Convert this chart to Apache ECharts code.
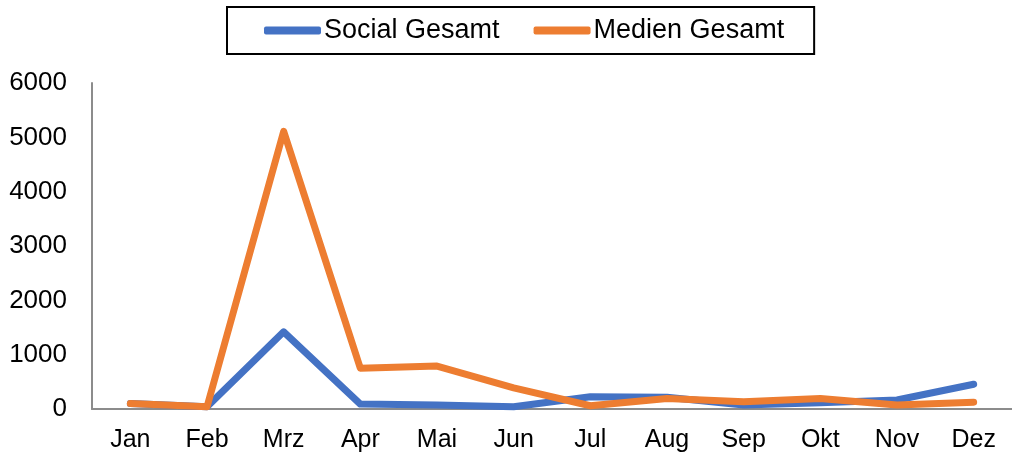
<!DOCTYPE html>
<html>
<head>
<meta charset="utf-8">
<script src="https://cdn.jsdelivr.net/npm/echarts@6/dist/echarts.min.js"></script>
<style>
	html, body { margin: 0; padding: 0; background: #fff; }
	#chart { width: 1012px; height: 456px; }
</style>
</head>
<body>
<div id="chart"></div>
<script>
var months = ['Jan', 'Feb', 'Mrz', 'Apr', 'Mai', 'Jun', 'Jul', 'Aug', 'Sep', 'Okt', 'Nov', 'Dez'];
var socialGesamt = [100, 40, 1420, 90, 75, 40, 225, 215, 75, 115, 165, 455];
var medienGesamt = [100, 40, 5110, 750, 790, 390, 60, 195, 135, 195, 75, 125];
var yTicks = [0, 1000, 2000, 3000, 4000, 5000, 6000];

var font = 'Liberation Sans, Arial, sans-serif';

function lineSeries(name, data, color) {
	return {
		name : name,
		type : 'line',
		data : data,
		symbol : 'none',
		lineStyle : {
			width : 7,
			color : color,
			cap : 'round',
			join : 'round'
		},
		itemStyle : { color : color }
	};
}

var option = {
	animation : false,
	textStyle : { fontFamily : font },
	legend : {
		left : 227,
		top : 7,
		padding : [10, 30, 10, 37],
		borderColor : '#000',
		borderWidth : 2,
		itemWidth : 57,
		itemHeight : 8,
		itemGap : 34,
		icon : 'roundRect',
		textStyle : { fontFamily : font, fontSize : 27, color : '#000', padding : [0, 0, 0, -2] },
		data : ['Social Gesamt', 'Medien Gesamt']
	},
	grid : {
		left : 92,
		top : 83,
		width : 930,
		height : 326
	},
	xAxis : {
		type : 'category',
		data : months,
		boundaryGap : true,
		axisLine : { lineStyle : { color : '#8c8c8c', width : 2 } },
		axisTick : { show : false },
		axisLabel : { fontFamily : font, fontSize : 25, color : '#000', margin : 19 }
	},
	yAxis : {
		type : 'value',
		min : yTicks[0],
		max : yTicks[yTicks.length - 1],
		interval : 1000,
		axisLine : { show : true, lineStyle : { color : '#8c8c8c', width : 2 } },
		axisTick : { show : false },
		splitLine : { show : false },
		axisLabel : {
			fontFamily : font,
			fontSize : 26,
			color : '#000',
			margin : 25,
			formatter : function(v) { return String(v); }
		}
	},
	series : [
		lineSeries('Social Gesamt', socialGesamt, '#4472c4'),
		lineSeries('Medien Gesamt', medienGesamt, '#ed7d31')
	]
};

var myChart = echarts.init(document.getElementById('chart'));
myChart.setOption(option);
</script>
</body>
</html>
